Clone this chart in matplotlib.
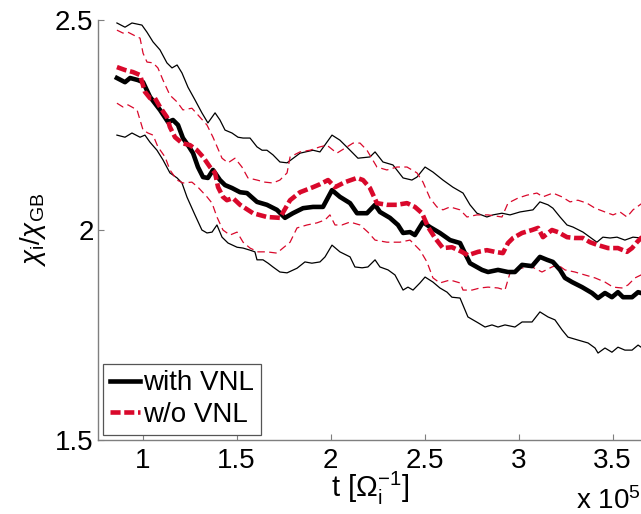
import numpy as np
import matplotlib
matplotlib.use("Agg")
import matplotlib.pyplot as plt

plt.rcParams['font.family'] = ['Liberation Sans', 'DejaVu Sans']
plt.rcParams['mathtext.fontset'] = 'custom'
plt.rcParams['mathtext.rm'] = 'Liberation Sans'
plt.rcParams['mathtext.it'] = 'Liberation Sans:italic'
plt.rcParams['mathtext.bf'] = 'Liberation Sans:bold'

# time in units of 1e5 / Omega_i, chi_i / chi_GB

# with VNL: mean
t_vnl = [0.863, 0.906, 0.933, 0.975, 1.002, 1.039, 1.092, 1.135, 1.161, 1.188,
         1.214, 1.241, 1.268, 1.294, 1.321, 1.347, 1.374, 1.411, 1.438, 1.475,
         1.518, 1.555, 1.608, 1.661, 1.714, 1.757, 1.799, 1.853, 1.906, 1.959,
         2.007, 2.049, 2.103, 2.140, 2.193, 2.236, 2.262, 2.315, 2.358, 2.385,
         2.422, 2.448, 2.491, 2.528, 2.581, 2.635, 2.688, 2.714, 2.741, 2.805,
         2.837, 2.890, 2.943, 2.980, 3.018, 3.071, 3.113, 3.151, 3.182, 3.220,
         3.246, 3.284, 3.337, 3.390, 3.422, 3.459, 3.496, 3.528, 3.555, 3.603,
         3.635, 3.651, 3.680]
chi_vnl = [2.362, 2.352, 2.362, 2.357, 2.352, 2.317, 2.286, 2.257, 2.262, 2.250,
           2.219, 2.202, 2.183, 2.150, 2.126, 2.124, 2.143, 2.119, 2.107, 2.100,
           2.090, 2.088, 2.067, 2.060, 2.048, 2.029, 2.040, 2.052, 2.055, 2.055,
           2.095, 2.079, 2.064, 2.040, 2.040, 2.060, 2.043, 2.029, 2.012, 1.993,
           1.995, 1.988, 2.019, 2.007, 1.993, 1.976, 1.969, 1.945, 1.921, 1.905,
           1.900, 1.905, 1.900, 1.900, 1.917, 1.914, 1.936, 1.929, 1.924, 1.905,
           1.886, 1.876, 1.864, 1.850, 1.838, 1.850, 1.840, 1.852, 1.840, 1.840,
           1.852, 1.850, 1.848]

# with VNL: upper band
t_vnl_hi = [0.863, 0.906, 0.943, 0.996, 1.023, 1.055, 1.092, 1.129, 1.156, 1.183,
            1.209, 1.241, 1.278, 1.315, 1.347, 1.385, 1.411, 1.438, 1.475, 1.507,
            1.534, 1.571, 1.608, 1.635, 1.661, 1.693, 1.730, 1.768, 1.837, 1.906,
            1.943, 2.007, 2.049, 2.103, 2.145, 2.209, 2.236, 2.278, 2.331, 2.385,
            2.432, 2.459, 2.502, 2.544, 2.597, 2.650, 2.704, 2.741, 2.778, 2.831,
            2.863, 2.911, 2.954, 3.007, 3.076, 3.113, 3.156, 3.182, 3.220, 3.257,
            3.289, 3.342, 3.379, 3.416, 3.448, 3.486, 3.523, 3.565, 3.608, 3.651,
            3.680]
chi_vnl_hi = [2.493, 2.483, 2.493, 2.488, 2.471, 2.448, 2.429, 2.398, 2.386, 2.393,
              2.374, 2.340, 2.310, 2.279, 2.255, 2.279, 2.262, 2.238, 2.231, 2.221,
              2.219, 2.219, 2.198, 2.190, 2.190, 2.179, 2.162, 2.160, 2.183, 2.190,
              2.186, 2.226, 2.214, 2.190, 2.171, 2.174, 2.186, 2.162, 2.155, 2.124,
              2.119, 2.126, 2.150, 2.138, 2.119, 2.102, 2.088, 2.060, 2.040, 2.031,
              2.036, 2.040, 2.036, 2.043, 2.048, 2.067, 2.060, 2.052, 2.031, 2.012,
              2.007, 1.995, 1.983, 1.971, 1.983, 1.981, 1.983, 1.976, 1.983, 1.981,
              1.985]

# with VNL: lower band
t_vnl_lo = [0.863, 0.906, 0.943, 0.986, 1.012, 1.039, 1.076, 1.108, 1.145, 1.183,
            1.209, 1.236, 1.278, 1.315, 1.342, 1.369, 1.395, 1.422, 1.454, 1.502,
            1.534, 1.571, 1.597, 1.608, 1.640, 1.667, 1.693, 1.730, 1.768, 1.821,
            1.863, 1.900, 1.943, 1.970, 2.007, 2.049, 2.103, 2.129, 2.167, 2.198,
            2.236, 2.262, 2.305, 2.342, 2.385, 2.411, 2.438, 2.475, 2.502, 2.544,
            2.581, 2.619, 2.645, 2.688, 2.730, 2.784, 2.821, 2.858, 2.890, 2.927,
            2.980, 3.018, 3.071, 3.113, 3.156, 3.193, 3.231, 3.262, 3.315, 3.369,
            3.406, 3.422, 3.459, 3.496, 3.528, 3.565, 3.603, 3.635, 3.651, 3.680]
chi_vnl_lo = [2.226, 2.221, 2.231, 2.221, 2.226, 2.209, 2.190, 2.167, 2.136, 2.124,
              2.112, 2.078, 2.036, 2.000, 1.993, 1.995, 2.012, 1.983, 1.969, 1.959,
              1.957, 1.952, 1.948, 1.929, 1.929, 1.921, 1.912, 1.900, 1.898, 1.909,
              1.924, 1.921, 1.924, 1.936, 1.964, 1.948, 1.936, 1.912, 1.910, 1.912,
              1.929, 1.912, 1.905, 1.893, 1.857, 1.864, 1.857, 1.874, 1.888, 1.876,
              1.862, 1.852, 1.840, 1.838, 1.793, 1.779, 1.769, 1.774, 1.769, 1.774,
              1.769, 1.781, 1.781, 1.805, 1.793, 1.786, 1.762, 1.745, 1.738, 1.731,
              1.719, 1.707, 1.719, 1.709, 1.721, 1.714, 1.714, 1.726, 1.721, 1.718]

# w/o VNL: mean
t_novnl = [0.863, 0.906, 0.949, 0.986, 1.012, 1.039, 1.065, 1.092, 1.129, 1.145,
           1.172, 1.209, 1.252, 1.289, 1.321, 1.358, 1.385, 1.401, 1.427, 1.448,
           1.480, 1.518, 1.587, 1.661, 1.730, 1.784, 1.837, 1.906, 1.943, 1.986,
           2.023, 2.076, 2.140, 2.172, 2.209, 2.246, 2.299, 2.352, 2.406, 2.448,
           2.486, 2.518, 2.555, 2.597, 2.645, 2.698, 2.730, 2.784, 2.831, 2.874,
           2.916, 2.943, 2.970, 3.018, 3.071, 3.103, 3.129, 3.177, 3.209, 3.257,
           3.299, 3.342, 3.379, 3.422, 3.475, 3.528, 3.576, 3.603, 3.629, 3.651,
           3.680]
chi_novnl = [2.388, 2.381, 2.376, 2.369, 2.329, 2.314, 2.314, 2.293, 2.269, 2.245,
             2.221, 2.207, 2.202, 2.190, 2.174, 2.150, 2.136, 2.102, 2.079, 2.071,
             2.076, 2.060, 2.040, 2.031, 2.029, 2.071, 2.090, 2.102, 2.109, 2.119,
             2.102, 2.114, 2.124, 2.119, 2.100, 2.064, 2.060, 2.060, 2.064, 2.055,
             2.040, 2.007, 1.981, 1.957, 1.959, 1.948, 1.940, 1.948, 1.952, 1.948,
             1.945, 1.969, 1.981, 1.993, 2.000, 2.005, 1.983, 2.000, 1.995, 1.983,
             1.981, 1.981, 1.971, 1.964, 1.957, 1.957, 1.948, 1.957, 1.971, 1.981,
             1.990]

# w/o VNL: upper band
t_novnl_hi = [0.863, 0.895, 0.922, 0.970, 0.986, 1.002, 1.023, 1.055, 1.081, 1.108,
              1.145, 1.183, 1.214, 1.262, 1.294, 1.342, 1.374, 1.422, 1.454, 1.491,
              1.528, 1.560, 1.608, 1.650, 1.693, 1.730, 1.768, 1.784, 1.837, 1.890,
              1.943, 1.980, 2.033, 2.087, 2.119, 2.156, 2.193, 2.246, 2.299, 2.352,
              2.406, 2.459, 2.491, 2.528, 2.565, 2.597, 2.635, 2.688, 2.725, 2.778,
              2.837, 2.911, 2.943, 2.996, 3.044, 3.097, 3.129, 3.182, 3.230, 3.273,
              3.315, 3.363, 3.406, 3.459, 3.502, 3.539, 3.576, 3.608, 3.651, 3.680]
chi_novnl_hi = [2.476, 2.469, 2.471, 2.460, 2.457, 2.421, 2.400, 2.398, 2.386, 2.357,
                2.321, 2.305, 2.286, 2.290, 2.274, 2.250, 2.221, 2.171, 2.160, 2.171,
                2.150, 2.124, 2.119, 2.114, 2.112, 2.119, 2.136, 2.174, 2.186, 2.190,
                2.198, 2.202, 2.183, 2.198, 2.207, 2.207, 2.190, 2.150, 2.143, 2.150,
                2.150, 2.136, 2.114, 2.076, 2.055, 2.048, 2.055, 2.048, 2.031, 2.036,
                2.036, 2.031, 2.064, 2.076, 2.083, 2.088, 2.079, 2.088, 2.079, 2.067,
                2.071, 2.064, 2.052, 2.043, 2.036, 2.043, 2.031, 2.048, 2.062, 2.070]

# w/o VNL: lower band
t_novnl_lo = [0.863, 0.895, 0.922, 0.970, 0.986, 1.002, 1.028, 1.055, 1.081, 1.119,
              1.145, 1.183, 1.214, 1.262, 1.294, 1.342, 1.369, 1.395, 1.427, 1.464,
              1.502, 1.534, 1.571, 1.613, 1.661, 1.714, 1.746, 1.784, 1.821, 1.874,
              1.927, 1.970, 1.996, 2.023, 2.060, 2.103, 2.156, 2.198, 2.236, 2.299,
              2.368, 2.422, 2.475, 2.512, 2.544, 2.581, 2.635, 2.688, 2.704, 2.752,
              2.794, 2.837, 2.890, 2.927, 2.954, 3.007, 3.071, 3.124, 3.177, 3.209,
              3.246, 3.299, 3.352, 3.406, 3.459, 3.502, 3.549, 3.581, 3.619, 3.651,
              3.680]
chi_novnl_lo = [2.302, 2.293, 2.298, 2.286, 2.262, 2.238, 2.231, 2.226, 2.198, 2.174,
                2.143, 2.119, 2.112, 2.114, 2.102, 2.079, 2.064, 2.031, 2.000, 1.988,
                1.995, 1.971, 1.957, 1.948, 1.948, 1.945, 1.957, 1.971, 2.005, 2.012,
                2.017, 2.024, 2.036, 2.012, 2.012, 2.019, 2.012, 1.995, 1.976, 1.971,
                1.971, 1.976, 1.952, 1.924, 1.886, 1.874, 1.881, 1.874, 1.857, 1.857,
                1.862, 1.864, 1.862, 1.857, 1.898, 1.909, 1.912, 1.900, 1.912, 1.917,
                1.905, 1.900, 1.893, 1.886, 1.876, 1.864, 1.862, 1.869, 1.886, 1.893,
                1.898]

xticks = [1, 1.5, 2, 2.5, 3, 3.5]
yticks = [1.5, 2, 2.5]

red = '#d9082b'
axis_gray = '#7f7f7f'

fig = plt.figure(figsize=(6.41, 5.14), dpi=100)
ax = fig.add_axes([0.1524, 0.144, 0.8476, 0.817])

# spread of each run, thin lines
ax.plot(t_vnl_hi, chi_vnl_hi, color='black', lw=0.9)
ax.plot(t_vnl_lo, chi_vnl_lo, color='black', lw=0.9)
ax.plot(t_novnl_hi, chi_novnl_hi, color=red, lw=0.9, dashes=(6, 3.5))
ax.plot(t_novnl_lo, chi_novnl_lo, color=red, lw=0.9, dashes=(6, 3.5))

# averages, thick lines
ax.plot(t_vnl, chi_vnl, color='black', lw=3.3, label='with VNL')
ax.plot(t_novnl, chi_novnl, color=red, lw=3.3, dashes=(2.2, 0.8),
        label='w/o VNL')

ax.set_xlim(0.7607, 3.6506)
ax.set_ylim(1.5, 2.5)
ax.set_xticks(xticks)
ax.set_xticklabels(['1', '1.5', '2', '2.5', '3', '3.5'])
ax.set_yticks(yticks)
ax.set_yticklabels(['1.5', '2', '2.5'])

for side in ['top', 'right']:
    ax.spines[side].set_visible(False)
for side in ['left', 'bottom']:
    ax.spines[side].set_color(axis_gray)
    ax.spines[side].set_linewidth(1.0)

ax.tick_params(direction='in', length=4, width=0.8, color=axis_gray,
               labelsize=20, labelcolor='black')
ax.tick_params(axis='x', pad=6)
ax.tick_params(axis='y', pad=3)

ax.set_ylabel(r'$\chi_\mathrm{i}/\chi_\mathrm{GB}$', fontsize=20, labelpad=5)

fig.text(0.578, 0.033, r'$\mathrm{t\ [\Omega_i^{-1}]}$', fontsize=21,
         ha='center', va='baseline')
fig.text(0.899, 0.010, r'x 10$^5$', fontsize=20, ha='left', va='baseline')

leg = ax.legend(loc='lower left', bbox_to_anchor=(0.160, 0.1537),
                bbox_transform=fig.transFigure, borderaxespad=0,
                fontsize=20, handlelength=1.1, handletextpad=0.12,
                labelspacing=0.2, borderpad=0.25, fancybox=False,
                framealpha=1)
leg.get_frame().set_edgecolor('#555555')
leg.get_frame().set_linewidth(0.9)

fig.savefig('out.png', dpi=100)
